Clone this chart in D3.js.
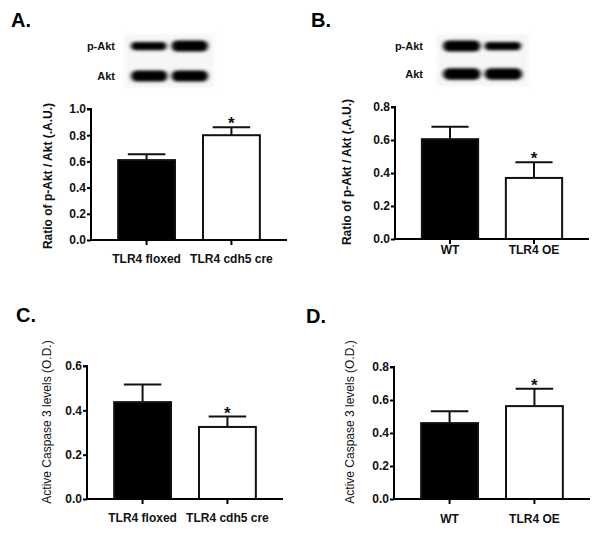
<!DOCTYPE html>
<html>
<head>
<meta charset="utf-8">
<script src="https://cdn.jsdelivr.net/npm/d3@7"></script>
<style>
  body { margin: 0; background: #fff; }
  svg { font-family: "Liberation Sans", Arial, sans-serif; }
  .tick text { font-weight: bold; font-size: 12px; fill: #111; }
  .lbl { font-weight: bold; font-size: 11px; fill: #111; }
</style>
</head>
<body>
<svg width="604" height="536"></svg>
<script>
// data
var groupsAC = ["TLR4 floxed", "TLR4 cdh5 cre"];
var groupsBD = ["WT", "TLR4 OE"];

var aktA_mean = [0.61, 0.80], aktA_sem = [0.045, 0.06];
var aktB_mean = [0.605, 0.37], aktB_sem = [0.075, 0.095];
var casC_mean = [0.437, 0.325], casC_sem = [0.08, 0.047];
var casD_mean = [0.46, 0.563], casD_sem = [0.072, 0.105];

var sigA = [false, true], sigB = [false, true], sigC = [false, true], sigD = [false, true];

// blot band thickness (relative intensity)
var blotRows = ["p-Akt", "Akt"];
var blotA_pAkt = [0.75, 1.0], blotA_akt = [1.0, 1.0];
var blotB_pAkt = [1.0, 0.75], blotB_akt = [1.05, 1.05];

var svg = d3.select("svg");

var defs = svg.append("defs");
defs.append("filter").attr("id", "blur")
    .attr("x", "-30%").attr("y", "-120%").attr("width", "160%").attr("height", "340%")
  .append("feGaussianBlur").attr("stdDeviation", "2.2 1.8");

function drawPanel(p) {
  var g = svg.append("g");

  var y = d3.scaleLinear().domain([0, p.max]).range([p.y0, p.yTop]);
  var x = d3.scaleBand().domain(p.cats).range([p.x0, p.x1])
      .paddingInner(0.33).paddingOuter(0.32).align(0.5);
  var bw = x.bandwidth();

  var rows = p.cats.map(function(c, i) {
    return {cat: c, mean: p.mean[i], sem: p.sem[i], sig: p.sig[i], i: i};
  });

  // error bars (upper only)
  rows.forEach(function(d) {
    var cx = x(d.cat) + bw / 2;
    g.append("line").attr("x1", cx).attr("x2", cx)
        .attr("y1", y(d.mean)).attr("y2", y(d.mean + d.sem))
        .attr("stroke", "#111").attr("stroke-width", 2);
    g.append("line").attr("x1", cx - bw * 0.33).attr("x2", cx + bw * 0.33)
        .attr("y1", y(d.mean + d.sem)).attr("y2", y(d.mean + d.sem))
        .attr("stroke", "#111").attr("stroke-width", 2);
    if (d.sig) {
      g.append("text").attr("x", cx).attr("y", y(d.mean + d.sem) + 2)
          .attr("text-anchor", "middle").attr("font-weight", "bold")
          .attr("font-size", 17).attr("fill", "#111").text("*");
    }
  });

  g.selectAll("rect.bar").data(rows).enter().append("rect")
      .attr("class", "bar")
      .attr("x", function(d) { return x(d.cat); })
      .attr("y", function(d) { return y(d.mean); })
      .attr("width", bw)
      .attr("height", function(d) { return y(0) - y(d.mean); })
      .attr("fill", function(d) { return d.i === 0 ? "#000" : "#fff"; })
      .attr("stroke", "#111").attr("stroke-width", 2);

  // y axis
  var ya = g.append("g").attr("transform", "translate(" + p.x0 + ",0)")
      .call(d3.axisLeft(y).tickValues(d3.range(0, p.max + 0.001, 0.2))
        .tickFormat(d3.format(".1f")).tickSize(4).tickPadding(1));
  ya.select(".domain").attr("stroke-width", 2).attr("d", "M-4," + p.yTop + "H0V" + p.y0);
  ya.selectAll(".tick line").attr("stroke-width", 2);

  // x axis
  var xa = g.append("g").attr("transform", "translate(0," + p.y0 + ")")
      .call(d3.axisBottom(x).tickSize(5).tickPadding(p.xPad));
  xa.select(".domain").attr("stroke-width", 2).attr("d", "M" + (p.x0 - 1) + ",0H" + p.x1);
  xa.selectAll(".tick line").attr("stroke-width", 2);

  // y label
  g.append("text")
      .attr("transform", "translate(" + p.labX + "," + p.labY + ") rotate(-90)")
      .attr("text-anchor", "middle")
      .attr("font-size", 12).attr("font-weight", p.labBold ? "bold" : "normal")
      .attr("fill", "#111")
      .text(p.ylabel);

  // panel letter
  g.append("text").attr("x", p.tx).attr("y", p.ty)
      .attr("font-size", 20).attr("font-weight", "bold").attr("fill", "#000")
      .text(p.title);
}

function drawBlot(b) {
  var g = svg.append("g");
  var lane = d3.scaleBand().domain([0, 1]).range([b.x0, b.x1]).paddingInner(0.1);
  var rowY = d3.scalePoint().domain(blotRows).range([b.yA, b.yB]);
  var data = [b.pAkt, b.akt];
  // faint membrane background
  g.append("rect").attr("x", b.x0 - 6).attr("y", b.yA - 12)
      .attr("width", b.x1 - b.x0 + 12).attr("height", b.yB - b.yA + 24)
      .attr("fill", "#f6f6f6").attr("filter", "url(#blur)");
  blotRows.forEach(function(r, ri) {
    g.append("text").attr("class", "lbl")
        .attr("x", b.labX).attr("y", rowY(r) + 4)
        .attr("text-anchor", "end").text(r);
    data[ri].forEach(function(v, li) {
      var h = 11 * v;
      g.append("rect")
          .attr("x", lane(li)).attr("y", rowY(r) - h / 2)
          .attr("width", lane.bandwidth() * (0.9 + 0.1 * v)).attr("height", h)
          .attr("rx", h / 2).attr("ry", h / 2)
          .attr("fill", "#000").attr("filter", "url(#blur)");
    });
  });
}

drawBlot({x0: 131, x1: 208, yA: 46, yB: 76, labX: 115, pAkt: blotA_pAkt, akt: blotA_akt});
drawBlot({x0: 443, x1: 522, yA: 46, yB: 74, labX: 423, pAkt: blotB_pAkt, akt: blotB_akt});

drawPanel({title: "A.", tx: 11, ty: 27, cats: groupsAC, mean: aktA_mean, sem: aktA_sem, sig: sigA,
  max: 1.0, x0: 91, x1: 287, y0: 240, yTop: 109, xPad: 9,
  ylabel: "Ratio of p-Akt / Akt (.A.U.)", labX: 52, labY: 176, labBold: true});
drawPanel({title: "B.", tx: 311, ty: 27, cats: groupsBD, mean: aktB_mean, sem: aktB_sem, sig: sigB,
  max: 0.8, x0: 395, x1: 589, y0: 239, yTop: 107, xPad: 1,
  ylabel: "Ratio of p-Akt / Akt (.A.U.)", labX: 351, labY: 172, labBold: true});
drawPanel({title: "C.", tx: 16, ty: 322, cats: groupsAC, mean: casC_mean, sem: casC_sem, sig: sigC,
  max: 0.6, x0: 87, x1: 283, y0: 499, yTop: 366, xPad: 9,
  ylabel: "Active Caspase 3 levels (O.D.)", labX: 51, labY: 422, labBold: false});
drawPanel({title: "D.", tx: 306, ty: 323, cats: groupsBD, mean: casD_mean, sem: casD_sem, sig: sigD,
  max: 0.8, x0: 394, x1: 590, y0: 499, yTop: 367, xPad: 10,
  ylabel: "Active Caspase 3 levels (O.D.)", labX: 354, labY: 422, labBold: false});
</script>
</body>
</html>
